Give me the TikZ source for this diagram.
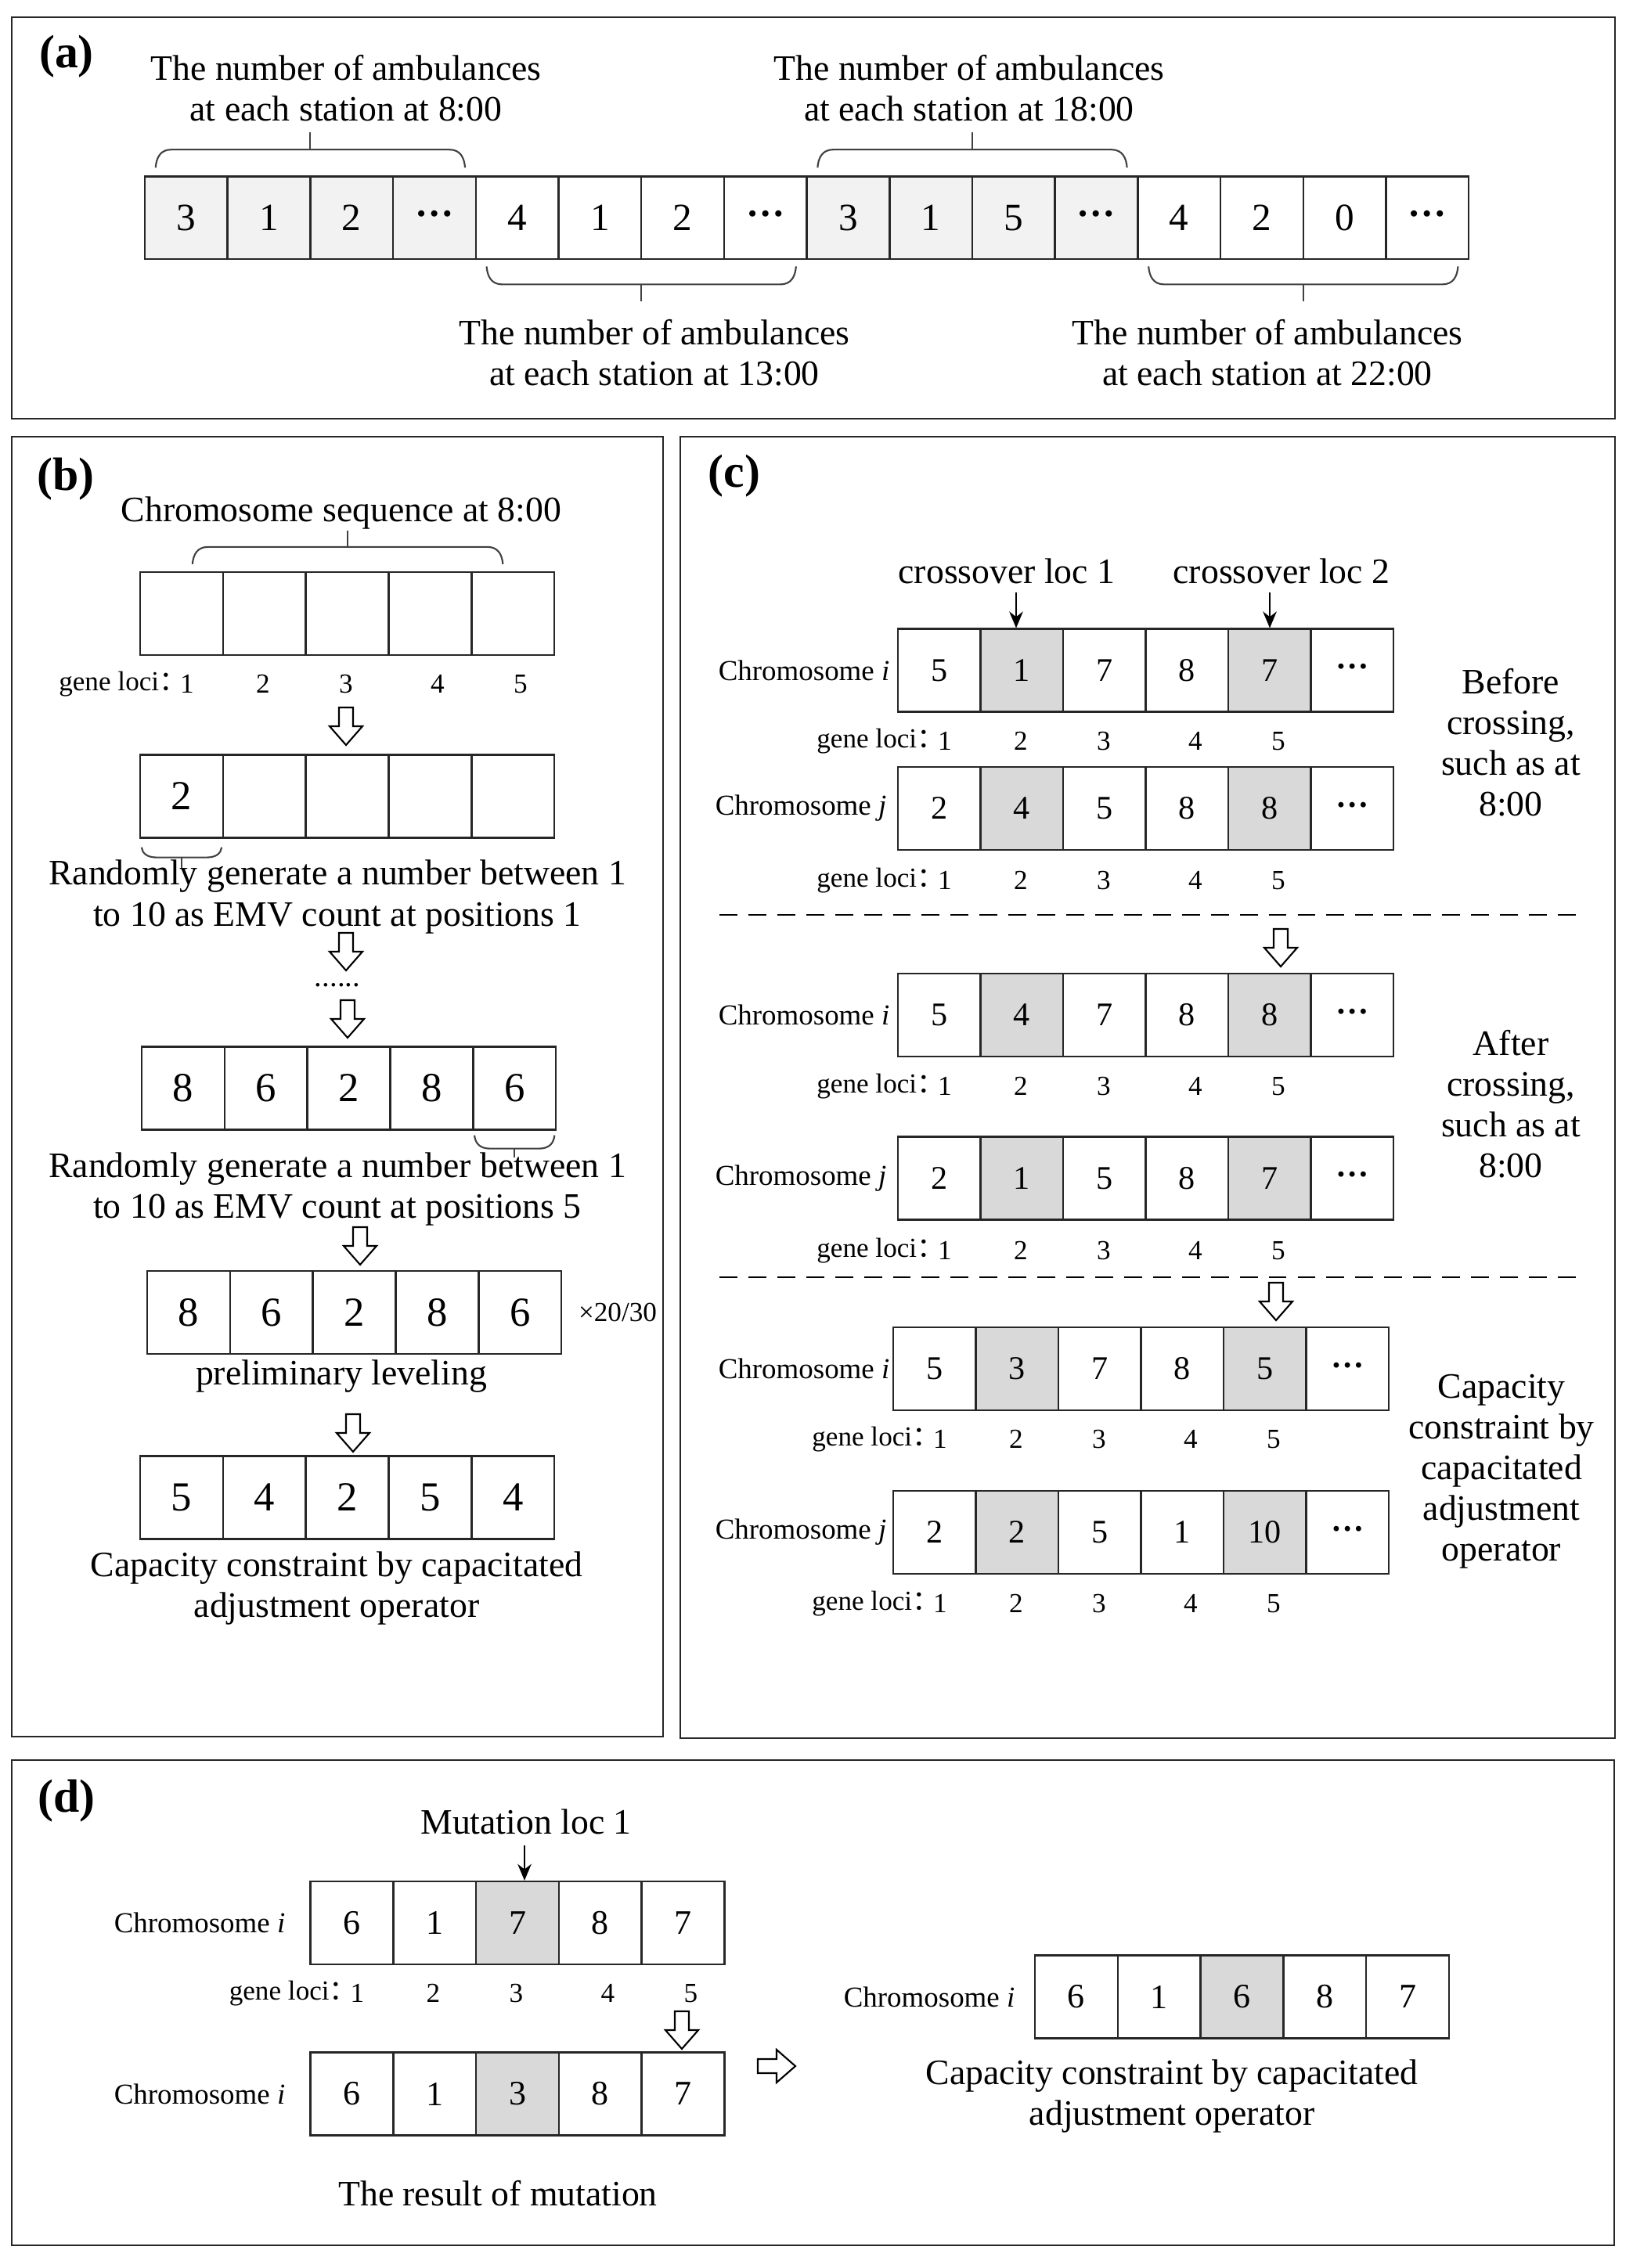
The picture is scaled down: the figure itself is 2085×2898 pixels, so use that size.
\documentclass[tikz,border=0pt]{standalone}
\usepackage{fontspec}
\setmainfont{Liberation Serif}
\newfontfamily\cjk{Noto Sans CJK SC}
\usetikzlibrary{calc,arrows.meta}

\definecolor{cellA}{HTML}{F2F2F2}
\definecolor{cellC}{HTML}{D9D9D9}

\newcommand{\dd}{\raisebox{0.22em}{\textbf{…}}}

\newcommand{\gbrace}[4]{%
  \draw[bracel] (#1) .. controls ($(#1)+(1,#3*0.55)$) and ($(#1)+(6,#3)$) .. ($(#1)+(20,#3)$)
    -- ($(#2)+(-20,#3)$) .. controls ($(#2)+(-6,#3)$) and ($(#2)+(-1,#3*0.55)$) .. (#2);
  \draw[bracel] ($(#1)!0.5!(#2)+(0,#3)$) -- ++(0,#4);}

\newcommand{\geneloci}[3]{%
  \node[loci,anchor=east] (#1) at (#2+46,#3) {gene loci\makebox[0.6em][l]{\cjk ：}};
  \foreach \o [count=\n] in {60,157,263,380,486}
    \node[loci] (#1-\n) at (#2+\o,#3) {\n};}

\tikzset{hdown/.pic={\draw[line width=0.6pt,fill=white] (-9,-24) -- (9,-24) -- (9,0) -- (21,0) -- (0,24) -- (-21,0) -- (-9,0) -- cycle;}}

\begin{document}
\begin{tikzpicture}[x=0.01cm,y=-0.01cm,
  cell/.style={draw=black!85,line width=0.7pt,fill=white,inner sep=0pt},
  cella/.style={cell,minimum size=1.057cm,font=\fontsize{14}{14}\selectfont},
  cellb/.style={cell,minimum size=1.058cm,font=\fontsize{15}{15}\selectfont},
  cellc/.style={cell,minimum size=1.055cm,font=\fontsize{12}{12}\selectfont},
  celld/.style={cell,minimum size=1.058cm,font=\fontsize{12.5}{12.5}\selectfont},
  txt/.style={align=center,inner sep=0pt,font=\fontsize{13}{14.8}\selectfont},
  chrom/.style={anchor=east,inner sep=0pt,font=\fontsize{10.5}{12}\selectfont},
  loci/.style={inner sep=0pt,font=\fontsize{10}{12}\selectfont},
  ptag/.style={inner sep=0pt,font=\fontsize{17}{17}\selectfont\bfseries},
  panel/.style={draw=black!85,line width=0.6pt},
  bracel/.style={draw=black!75,line width=0.6pt},
  arr/.style={-{Stealth[length=6pt,width=5pt]},line width=0.6pt},
  cutline/.style={line width=0.8pt,dash pattern=on 6.5pt off 4pt}]
\useasboundingbox (0,0) rectangle (2085,2898);

\draw[panel] (15,22) rectangle (2063,535);
\draw[panel] (15,558) rectangle (847,2219);
\draw[panel] (869,558) rectangle (2063,2221);
\draw[panel] (15,2249) rectangle (2062,2869);

\node[ptag] (pa) at (85,72) {(a)};
\node[ptag] (pb) at (84,612) {(b)};
\node[ptag] (pc) at (938,608) {(c)};
\node[ptag] (pd) at (85,2301) {(d)};

% (a)
\foreach \v/\c [count=\k] in {3/cellA,1/cellA,2/cellA,\dd/cellA,4/white,1/white,2/white,\dd/white,3/cellA,1/cellA,5/cellA,\dd/cellA,4/white,2/white,0/white,\dd/white}
  \node[cella,fill=\c] (a\k) at ({237.85+105.7*(\k-1)},278.3) {\v};
\coordinate (u1) at ($(a1.north west)+(15,-10)$);
\coordinate (u2) at ($(a4.north east)+(-15,-10)$);
\coordinate (u3) at ($(a9.north west)+(15,-10)$);
\coordinate (u4) at ($(a12.north east)+(-15,-10)$);
\coordinate (w1) at ($(a5.south west)+(15,8)$);
\coordinate (w2) at ($(a8.south east)+(-15,8)$);
\coordinate (w3) at ($(a13.south west)+(15,8)$);
\coordinate (w4) at ($(a16.south east)+(-15,8)$);
\gbrace{u1}{u2}{-23}{-22}
\gbrace{u3}{u4}{-23}{-22}
\gbrace{w1}{w2}{23}{22}
\gbrace{w3}{w4}{23}{22}
\node[txt] (t8) at (442,113) {The number of ambulances\\at each station at 8:00};
\node[txt] (t13) at (836,451) {The number of ambulances\\at each station at 13:00};
\node[txt] (t18) at (1238,113) {The number of ambulances\\at each station at 18:00};
\node[txt] (t22) at (1619,451) {The number of ambulances\\at each station at 22:00};

% (b)
\node[txt] (tb0) at (436,656) {Chromosome sequence at 8:00};
\foreach \k in {1,...,5}
  \node[cellb] (b1-\k) at ({232+105.8*(\k-1)},784) {};
\coordinate (v1) at ($(b1-1.north west)+(68,-9)$);
\coordinate (v2) at ($(b1-5.north east)+(-67,-9)$);
\gbrace{v1}{v2}{-22}{-21}
\geneloci{gb1}{179}{874}
\pic at (442,928) {hdown};
\node[cellb] (b2-1) at (232,1017.5) {2};
\foreach \k in {2,...,5}
  \node[cellb] (b2-\k) at ({232+105.8*(\k-1)},1017.5) {};
\coordinate (s1) at ($(b2-1.south west)+(3,11)$);
\coordinate (s2) at ($(b2-1.south east)+(-3,11)$);
\gbrace{s1}{s2}{13}{14}
\node[txt] (tb1) at (431,1146) {Randomly generate a number between 1\\to 10 as EMV count at positions 1};
\pic at (442,1216) {hdown};
\node[inner sep=0pt,font=\fontsize{11}{11}\selectfont] (etc) at (431,1259) {......};
\pic at (444,1302) {hdown};
\foreach \v [count=\k] in {8,6,2,8,6}
  \node[cellb] (b3-\k) at ({234+105.8*(\k-1)},1390.5) {\v};
\coordinate (s3) at ($(b3-5.south west)+(3,6)$);
\coordinate (s4) at ($(b3-5.south east)+(-3,6)$);
\gbrace{s3}{s4}{17}{11}
\node[txt] (tb2) at (431,1519.5) {Randomly generate a number between 1\\to 10 as EMV count at positions 5};
\pic at (460,1592) {hdown};
\foreach \v [count=\k] in {8,6,2,8,6}
  \node[cellb] (b4-\k) at ({241+105.8*(\k-1)},1677) {\v};
\node[loci] (scale) at (789,1677) {×20/30};
\node[txt] (tb3) at (436,1759) {preliminary leveling};
\pic at (451,1831) {hdown};
\foreach \v [count=\k] in {5,4,2,5,4}
  \node[cellb] (b5-\k) at ({232+105.8*(\k-1)},1913.5) {\v};
\node[txt] (tb4) at (430,2029.5) {Capacity constraint by capacitated\\adjustment operator};

% (c)
\node[txt] (x1) at (1286,730) {crossover loc 1};
\node[txt] (x2) at (1637,730) {crossover loc 2};
\foreach \v/\c [count=\k] in {5/white,1/cellC,7/white,8/white,7/cellC,\dd/white}
  \node[cellc,fill=\c] (ci1-\k) at ({1199.75+105.5*(\k-1)},856.5) {\v};
\node[chrom] (li1) at (1137,856.5) {Chromosome \textit{i}};
\coordinate (k1) at (1298,757);
\coordinate (k2) at (1622,757);
\draw[arr] (k1) -- (k1 |- ci1-2.north);
\draw[arr] (k2) -- (k2 |- ci1-5.north);
\geneloci{gc1}{1147}{947}
\foreach \v/\c [count=\k] in {2/white,4/cellC,5/white,8/white,8/cellC,\dd/white}
  \node[cellc,fill=\c] (cj1-\k) at ({1199.75+105.5*(\k-1)},1033) {\v};
\node[chrom] (lj1) at (1133,1033) {Chromosome \textit{j}};
\geneloci{gc2}{1147}{1125}
\node[txt] (before) at (1930,949) {Before\\crossing,\\such as at\\8:00};
\draw[cutline] (919,1169) -- (2026,1169);
\pic at (1636,1211) {hdown};
\foreach \v/\c [count=\k] in {5/white,4/cellC,7/white,8/white,8/cellC,\dd/white}
  \node[cellc,fill=\c] (ci2-\k) at ({1199.75+105.5*(\k-1)},1297) {\v};
\node[chrom] (li2) at (1137,1297) {Chromosome \textit{i}};
\geneloci{gc3}{1147}{1388}
\foreach \v/\c [count=\k] in {2/white,1/cellC,5/white,8/white,7/cellC,\dd/white}
  \node[cellc,fill=\c] (cj2-\k) at ({1199.75+105.5*(\k-1)},1505.5) {\v};
\node[chrom] (lj2) at (1133,1505.5) {Chromosome \textit{j}};
\geneloci{gc4}{1147}{1598}
\node[txt] (after) at (1930,1410.5) {After\\crossing,\\such as at\\8:00};
\draw[cutline] (919,1632) -- (2026,1632);
\pic at (1630,1663) {hdown};
\foreach \v/\c [count=\k] in {5/white,3/cellC,7/white,8/white,5/cellC,\dd/white}
  \node[cellc,fill=\c] (ci3-\k) at ({1193.75+105.5*(\k-1)},1749) {\v};
\node[chrom] (li3) at (1137,1749) {Chromosome \textit{i}};
\geneloci{gc5}{1141}{1839}
\foreach \v/\c [count=\k] in {2/white,2/cellC,5/white,1/white,10/cellC,\dd/white}
  \node[cellc,fill=\c] (cj3-\k) at ({1193.75+105.5*(\k-1)},1958) {\v};
\node[chrom] (lj3) at (1133,1958) {Chromosome \textit{j}};
\geneloci{gc6}{1141}{2049}
\node[txt] (cap) at (1918,1880) {Capacity\\constraint by\\capacitated\\adjustment\\operator};

% (d)
\node[txt] (mut) at (672,2328) {Mutation loc 1};
\foreach \v/\c [count=\k] in {6/white,1/white,7/cellC,8/white,7/white}
  \node[celld,fill=\c] (d1-\k) at ({449.4+105.8*(\k-1)},2457) {\v};
\node[chrom] (ld1) at (365,2457) {Chromosome \textit{i}};
\coordinate (m1) at (670,2358);
\draw[arr] (m1) -- (m1 |- d1-3.north);
\geneloci{gd1}{396.5}{2547}
\pic at (871,2594) {hdown};
\foreach \v/\c [count=\k] in {6/white,1/white,3/cellC,8/white,7/white}
  \node[celld,fill=\c] (d2-\k) at ({449.4+105.8*(\k-1)},2675.5) {\v};
\node[chrom] (ld2) at (365,2675.5) {Chromosome \textit{i}};
\pic[rotate=90] at (992,2640) {hdown};
\node[txt] (res) at (636,2803) {The result of mutation};
\foreach \v/\c [count=\k] in {6/white,1/white,6/cellC,8/white,7/white}
  \node[celld,fill=\c] (d3-\k) at ({1374.9+105.8*(\k-1)},2551.5) {\v};
\node[chrom] (ld3) at (1297,2551.5) {Chromosome \textit{i}};
\node[txt] (cap2) at (1497,2678.5) {Capacity constraint by capacitated\\adjustment operator};
\end{tikzpicture}
\end{document}
